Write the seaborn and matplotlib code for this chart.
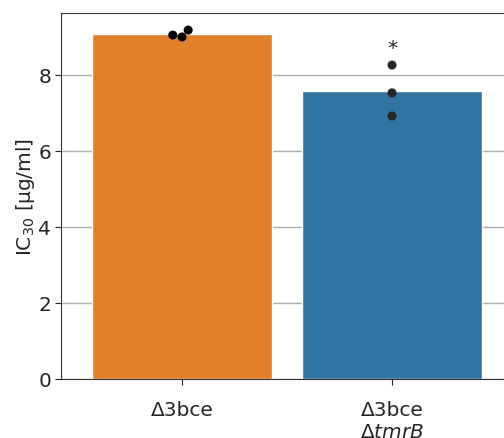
import pandas as pd
import matplotlib.pyplot as plt
import seaborn as sns

# Data
strains = ["Δ3bce", "Δ3bce\nΔ$\\it{tmrB}$"]
bar_means = [9.08, 7.57]
rep_strain = ["Δ3bce"] * 3 + ["Δ3bce\nΔ$\\it{tmrB}$"] * 3
rep_values = [9.05, 9.00, 9.18, 8.26, 7.53, 6.92]

bars = pd.DataFrame({"strain": strains, "ic30": bar_means})
reps = pd.DataFrame({"strain": rep_strain, "ic30": rep_values})

sns.set_style("ticks")
plt.rcParams["font.family"] = ["DejaVu Sans"]
plt.rcParams["font.size"] = 14.5

fig = plt.figure(figsize=(5.04, 4.39), dpi=100)
ax = fig.add_axes([61 / 504, 59 / 439, 452 / 504, 366 / 439])

sns.barplot(x="strain", y="ic30", data=bars, hue="strain",
            palette=["C1", "C0"], width=0.86, legend=False, ax=ax,
            zorder=2)
sns.swarmplot(x="strain", y="ic30", data=reps, hue="strain",
              palette=["black", "#262626"], size=6.5, legend=False, ax=ax,
              zorder=3)

ax.text(1, 8.72, "*", ha="center", va="center", fontsize=14.5)

ax.set_ylim(0, 9.63)
ax.set_xlim(-0.576, 1.576)
ax.set_yticks([0, 2, 4, 6, 8])
ax.yaxis.grid(True, color="#b0b0b0", linewidth=1, zorder=0)
ax.set_axisbelow(True)
ax.set_xlabel("")
ax.set_ylabel("IC$_{30}$ [µg/ml]", fontsize=14.5, labelpad=1)
ax.tick_params(labelsize=14.5, length=4)
ax.tick_params(axis="x", pad=11)
ax.tick_params(axis="y", pad=3)
for s in ax.spines.values():
    s.set_color("#333333")

plt.savefig("out.png", dpi=100)
